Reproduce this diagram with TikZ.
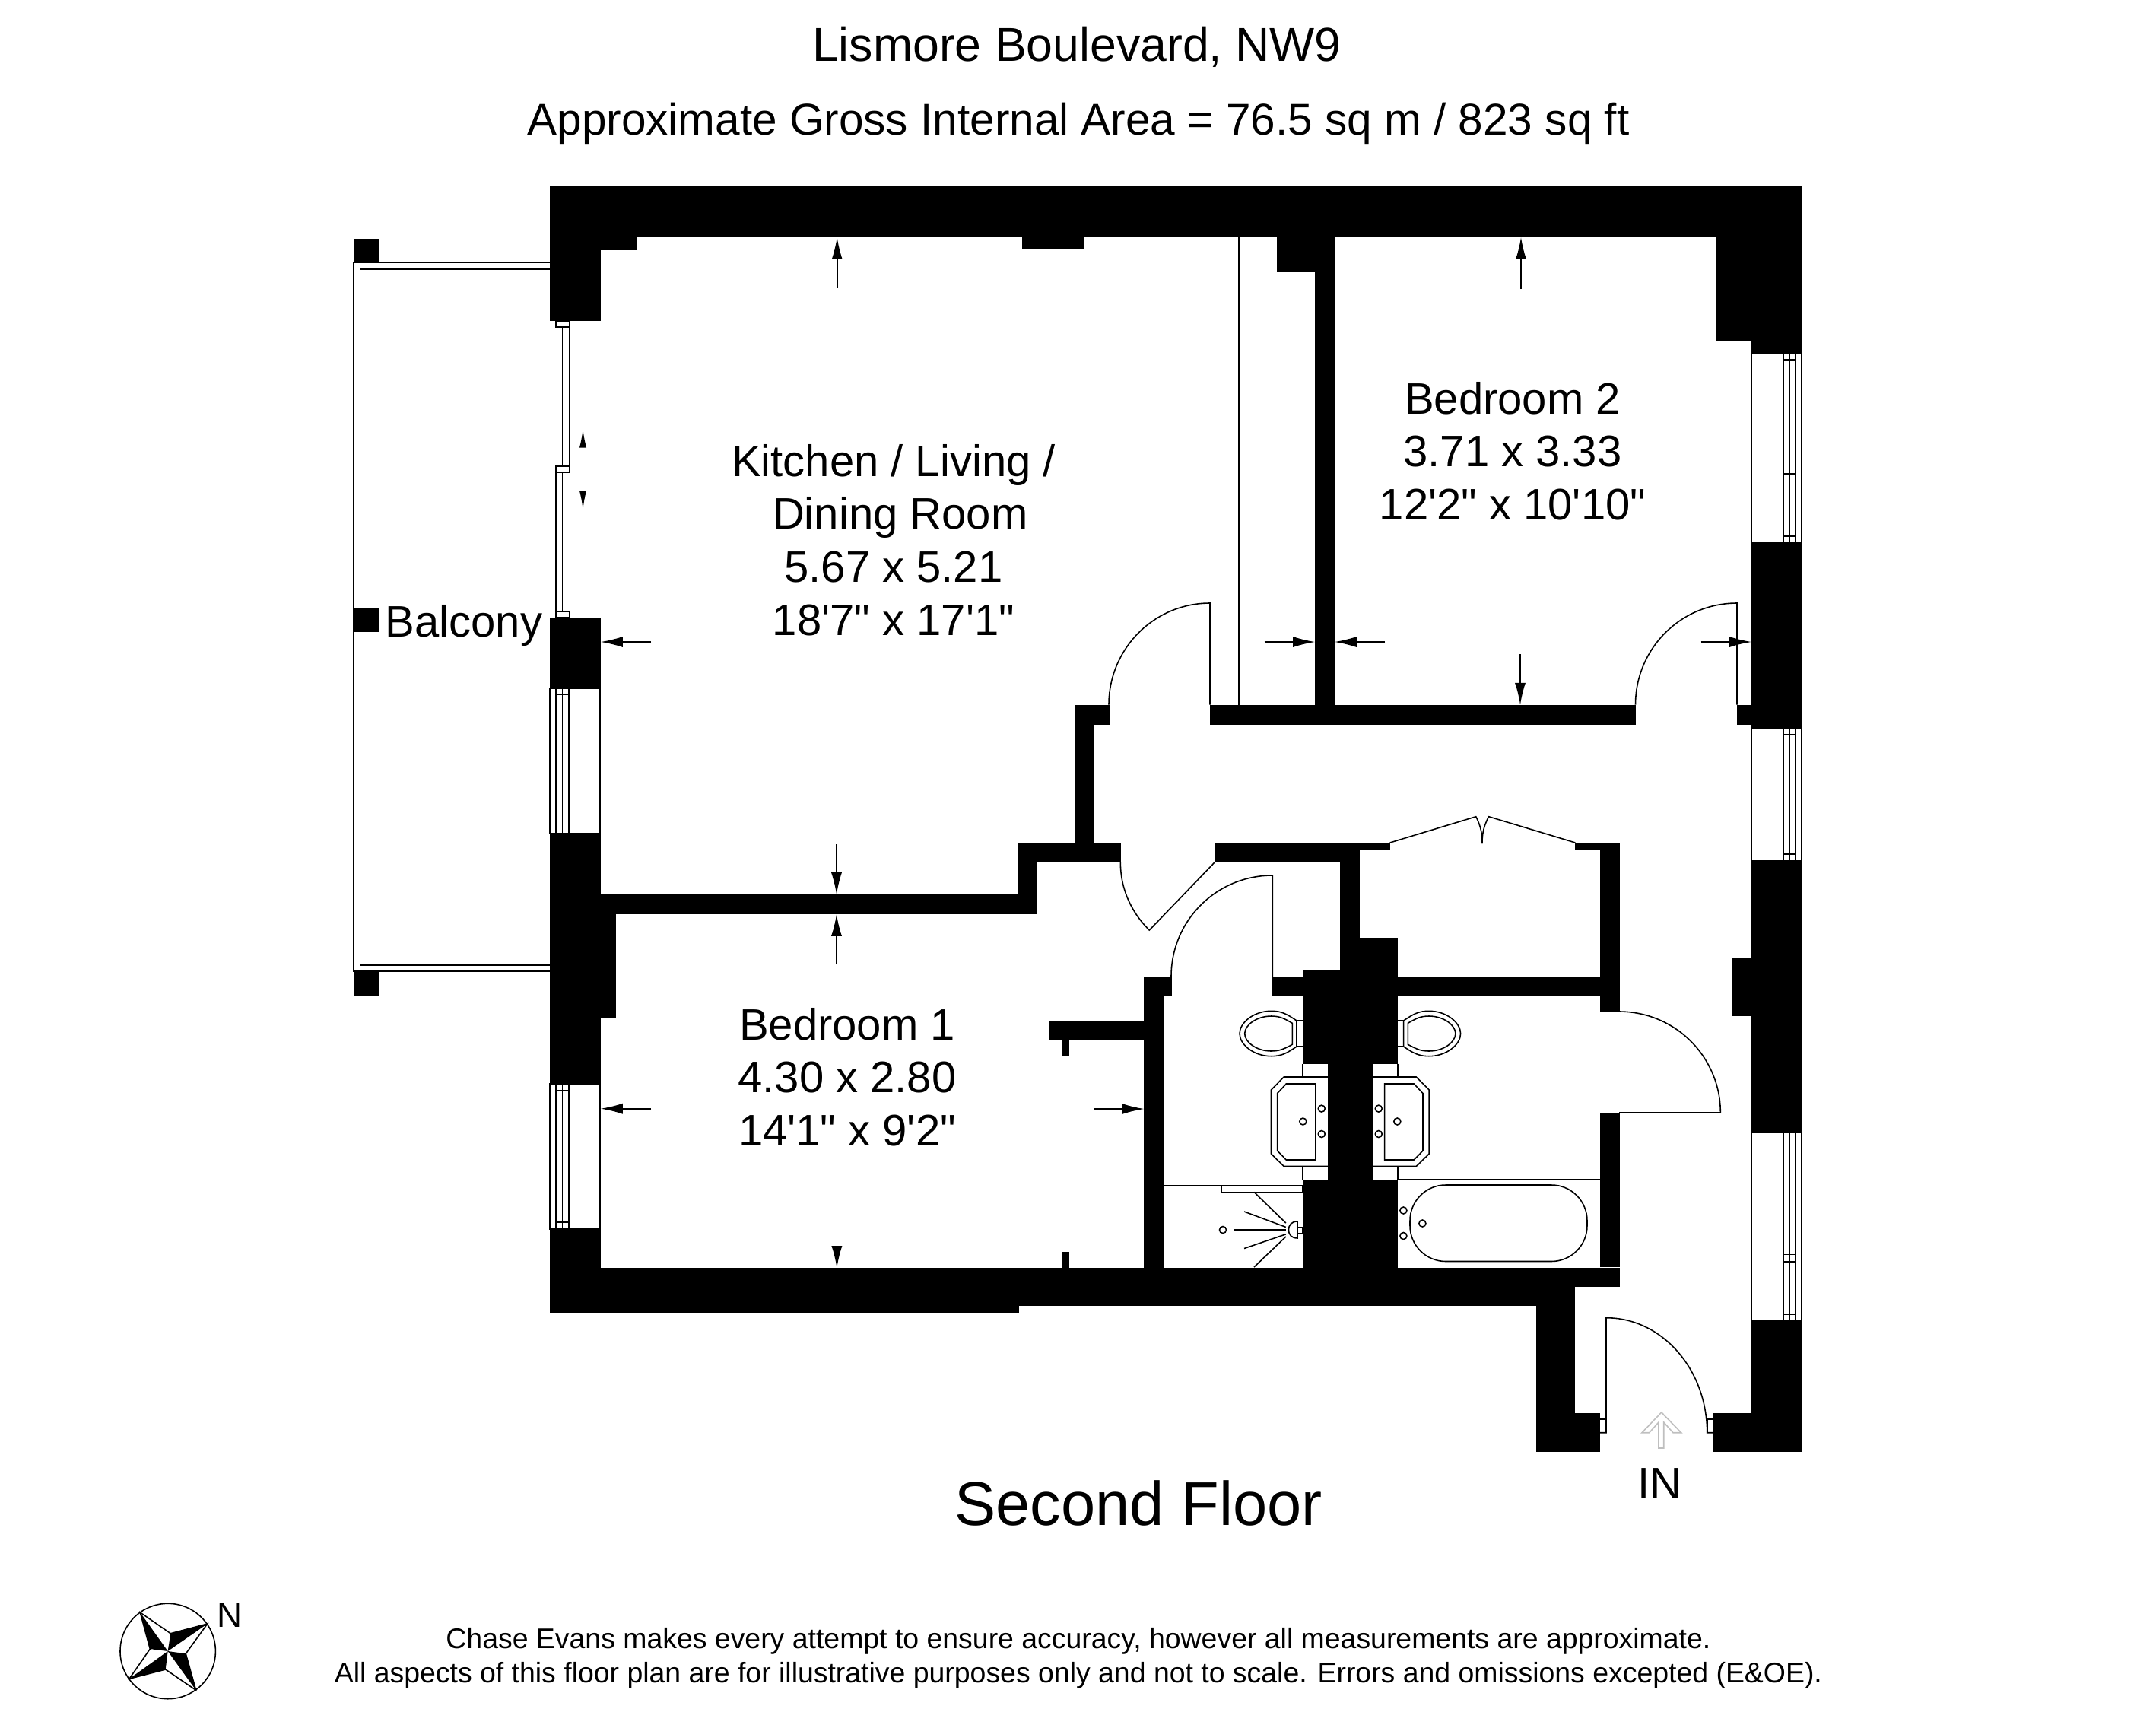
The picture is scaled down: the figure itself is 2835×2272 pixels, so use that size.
\documentclass[tikz,border=0pt]{standalone}
\usepackage{fontspec}
\newfontfamily\plansans{Liberation Sans}
\usetikzlibrary{arrows.meta}

%%% glass strip in an outer wall: outer x, outer x, frame x, frame x, top, bottom
\newcommand{\casement}[6]{
    \draw[thinline] (#1,#5) rectangle (#2,#6);
    \draw[thinline] (#3,#5) rectangle (#4,#6);
    \draw[thinline] ({(#3+#4)/2},#5) -- ({(#3+#4)/2},#6);
    \draw[thinline] (#3,{#5+8.5}) -- (#4,{#5+8.5});
    \draw[thinline] (#3,{#6-8.5}) -- (#4,{#6-8.5});
}

%%% toilet and basin against the service riser
\newcommand{\washset}{
    \draw[thinline] (1705,1342) .. controls (1693,1334) and (1686,1329.3) .. (1671.7,1329.3) .. controls (1648,1329.3) and (1630,1345) .. (1630,1359) .. controls (1630,1373) and (1648,1388.7) .. (1671.7,1388.7) .. controls (1686,1388.7) and (1693,1384) .. (1705,1376) -- cycle;
    \draw[thinline] (1699.3,1345.3) .. controls (1690,1340) and (1684,1336) .. (1671.7,1336) .. controls (1652,1336) and (1636.7,1348) .. (1636.7,1359) .. controls (1636.7,1370) and (1652,1382) .. (1671.7,1382) .. controls (1684,1382) and (1690,1378) .. (1699.3,1373.3) -- cycle;
    \draw[thinline] (1705,1342) -- (1712.8,1342);
    \draw[thinline] (1705,1376) -- (1712.8,1376);
    \draw[thinline] (1712.8,1398.7) -- (1712.8,1416);
    \draw[thinline] (1712.8,1533.5) -- (1712.8,1551);
    \draw[thinline] (1746.4,1416) -- (1688.3,1416) -- (1671.4,1433) -- (1671.4,1517) -- (1688.3,1533.5) -- (1746.4,1533.5);
    \draw[thinline] (1730,1425) -- (1691.3,1425) -- (1679.6,1437.5) -- (1679.6,1513) -- (1691.3,1525) -- (1730,1525) -- cycle;
    \draw[thinline] (1737.8,1457.6) circle [radius=4.5];
    \draw[thinline] (1737.8,1491) circle [radius=4.5];
    \draw[thinline] (1713.3,1474.5) circle [radius=4.5];
}

\begin{document}
\begin{tikzpicture}[
    x=0.01cm, y=-0.01cm,
    >={Latex[length=8.2pt,width=4pt]},
    wall/.style={fill=black},
    thinline/.style={draw=black, line width=0.45pt},
    dimline/.style={thinline, ->},
    slidedim/.style={thinline, <->, >={Latex[length=7pt,width=2.6pt]}},
    inarrow/.style={draw=black!25, line width=0.45pt},
    heading/.style={inner sep=0pt, font=\fontsize{17.8}{21}\plansans},
    subheading/.style={inner sep=0pt, font=\fontsize{16.64}{20}\plansans},
    roomname/.style={inner sep=0pt, align=center, font=\fontsize{16.5}{19.8}\plansans},
    smallprint/.style={inner sep=0pt, font=\fontsize{10.64}{12.6}\plansans}]

    \useasboundingbox (0,0) rectangle (2835,2272);

    %%% Balcony
    \draw[thinline] (723,345.6) -- (465,345.6) -- (465,1277) -- (723,1277);
    \draw[thinline] (723,354) -- (473.5,354) -- (473.5,1269) -- (723,1269);

    %%% Walls
    \foreach \xa/\ya/\xb/\yb in {
        464.5/313.5/498/345.6, 464.5/798.8/498/831, 464.5/1277/498/1309,
        723/244/2370/312, 723/312/837/329, 723/312/790/422, 1344/312/1425/327,
        723/812/790/905, 723/1096/790/1176, 723/1176/1363.7/1202, 723/1202/810/1339,
        723/1339/790/1425, 723/1616/790/1667, 723/1667/1340/1726, 1340/1667/2020/1717,
        1396.3/1646/1405.7/1667, 2020/1667/2129.6/1692, 2020/1692/2071/1858,
        2020/1858/2103.7/1909, 2253/1858/2370/1909, 2303/1737/2370/1858,
        1679.4/312/1755/358.4, 1729/358.4/1755/926.7,
        1413/926.7/1458.6/952.5, 1413/952.5/1439.3/1108.7, 1591/926.7/2151/952.5,
        1338/1108.7/1473.7/1133.7, 1338/1133.7/1363.7/1176,
        2257/312/2370/448, 2303/448/2370/464.4, 2303/713.7/2370/927,
        2284/927/2370/952.5, 2303/952.5/2370/957.4, 2303/1131.5/2370/1260,
        2278/1260/2370/1335.5, 2303/1335.5/2370/1489,
        1597.4/1108/1827.6/1117.4, 1597.4/1117.4/1787.8/1133.5, 1762/1133.5/1788/1232.6,
        1762/1232.6/1837.8/1274.5, 1712.8/1274.5/1837.8/1284, 1673.3/1284/2129.6/1309.4,
        2071.4/1108/2129.6/1117.4, 2103.6/1117.4/2129.6/1284, 2103.6/1309.4/2129.6/1330.8,
        2103.6/1463/2129.6/1666, 1712.8/1309.4/1837.8/1398.7, 1746.4/1398.7/1804.6/1551,
        1712.8/1551/1837.8/1667,
        1504.3/1284/1540.7/1310, 1504.3/1310/1530.7/1667, 1380.3/1342.3/1530.7/1367.7,
        1396.3/1367.7/1405.7/1389.3}
        \fill[wall] (\xa,\ya) rectangle (\xb,\yb);

    %%% Windows and sliding door
    \casement{723}{789}{731}{748}{905}{1096}
    \casement{723}{789}{731}{748}{1425}{1615.7}
    \casement{2303}{2369}{2345}{2361}{464.4}{713.7}
    \casement{2303}{2369}{2345}{2361}{957.4}{1131.5}
    \casement{2303}{2369}{2345}{2361}{1489}{1737}
    \draw[thinline] (2345,623) rectangle (2361,632.4);
    \draw[thinline] (2345,1649.3) rectangle (2361,1658.7);
    \draw[thinline] (731,422) rectangle (748.7,430);
    \draw[thinline] (739.5,430) rectangle (748.7,613);
    \draw[thinline] (731,613) rectangle (748.7,621.5);
    \draw[thinline] (731,621.5) rectangle (739.5,804.5);
    \draw[thinline] (731,804.5) rectangle (748.7,812);

    %%% Doors
    \draw[thinline] (1458,926.7) .. controls (1458,853) and (1517.5,793) .. (1591,793) -- (1591,926.7);
    \draw[thinline] (1629,312) -- (1629,926.7);
    \draw[thinline] (2150.5,926.7) .. controls (2150.5,853) and (2210,793) .. (2284,793) -- (2284,926.7);
    \draw[thinline] (1473.3,1133.7) .. controls (1473.3,1168) and (1487,1199) .. (1511.3,1223) -- (1597.3,1133.7);
    \draw[thinline] (1540,1284) .. controls (1540,1210.5) and (1599.5,1151) .. (1673.3,1151) -- (1673.3,1284);
    \draw[thinline] (2129,1330) .. controls (2202.5,1330) and (2262.3,1389.5) .. (2262.3,1463) -- (2129,1463);
    \draw[thinline] (1827.6,1108) -- (1940.8,1073.7) .. controls (1948,1088) and (1949,1098) .. (1949,1109);
    \draw[thinline] (2071.4,1108) -- (1957.6,1073.7) .. controls (1950,1088) and (1949,1098) .. (1949,1109);
    \draw[thinline] (2103.7,1866) -- (2112,1866);
    \draw[thinline] (2103.7,1883.7) -- (2112,1883.7) -- (2112,1732.7) .. controls (2185,1732.7) and (2244.7,1800) .. (2244.7,1883.7) -- (2253,1883.7);
    \draw[thinline] (2244.7,1883.7) -- (2244.7,1866) -- (2253,1866);
    \draw[inarrow] (2184.7,1857) -- (2210.7,1883.7) -- (2200,1883.7) -- (2187.7,1870) -- (2187.7,1904) -- (2181,1904) -- (2181,1870) -- (2168.7,1883.7) -- (2159,1883.7) -- cycle;

    %%% Wardrobe front of bedroom 1
    \draw[thinline] (1396.3,1389.3) -- (1396.3,1646);

    %%% Bathroom fittings
    \washset
    \begin{scope}[shift={(3550.6,0)}, xscale=-1]
        \washset
    \end{scope}
    \draw[thinline] (1837.8,1550.4) -- (2103.6,1550.4);
    \draw[thinline, rounded corners=47pt*0.2845] (1854,1558) rectangle (2087,1658.5);
    \draw[thinline] (1845.4,1591.5) circle [radius=4.5];
    \draw[thinline] (1845.4,1625) circle [radius=4.5];
    \draw[thinline] (1870.4,1608.5) circle [radius=4.5];

    %%% Shower
    \draw[thinline] (1530.7,1559) -- (1712.8,1559);
    \draw[thinline] (1606.6,1559) rectangle (1712.8,1567.4);
    \draw[thinline] (1706,1606) .. controls (1698,1606) and (1694.4,1611) .. (1694.4,1617) .. controls (1694.4,1623) and (1698,1628) .. (1706,1628) -- cycle;
    \draw[thinline] (1706,1613.4) rectangle (1712.8,1621.4);
    \draw[thinline] (1649,1567.4) -- (1690.8,1608);
    \draw[thinline] (1636,1593) -- (1690.8,1613.4);
    \draw[thinline] (1623,1617) -- (1690.8,1617);
    \draw[thinline] (1636,1641.5) -- (1690.8,1622.8);
    \draw[thinline] (1649,1666) -- (1690.8,1626);
    \draw[thinline] (1608,1617) circle [radius=4.5];

    %%% Measuring arrows
    \draw[dimline] (1100.7,378.7) -- (1100.7,312);
    \draw[dimline] (1100,1110) -- (1100,1176);
    \draw[dimline] (856,844) -- (790,844);
    \draw[slidedim] (766.5,564) -- (766.5,670);
    \draw[dimline] (1662.5,844) -- (1729,844);
    \draw[dimline] (1821,844) -- (1755,844);
    \draw[dimline] (2000,380) -- (2000,312);
    \draw[dimline] (1999,860) -- (1999,926.7);
    \draw[dimline] (2236.5,844) -- (2303,844);
    \draw[dimline] (1100,1268) -- (1100,1202);
    \draw[dimline] (856,1457.7) -- (790,1457.7);
    \draw[dimline] (1100.4,1600) -- (1100.4,1667);
    \draw[dimline] (1438,1458) -- (1504.3,1458);

    %%% Compass
    \draw[thinline] (220.7,2171) circle [radius=62.7];
    \fill (184.3,2120) -- (197.3,2168) -- (220.7,2171) -- cycle;
    \fill (272.7,2135) -- (224.3,2147.7) -- (220.7,2171) -- cycle;
    \fill (257.7,2222.3) -- (244.3,2174.3) -- (220.7,2171) -- cycle;
    \fill (170,2207.3) -- (217.7,2195) -- (220.7,2171) -- cycle;
    \draw[thinline] (184.3,2120) -- (224.3,2147.7) -- (272.7,2135) -- (244.3,2174.3) -- (257.7,2222.3) -- (217.7,2195) -- (170,2207.3) -- (197.3,2168) -- cycle;
    \node[inner sep=0pt, font=\fontsize{13}{15}\plansans] (north) at (302,2124) {N};

    %%% Texts
    \node[heading] (address) at (1416,62) {Lismore Boulevard, NW9};
    \node[subheading] (area) at (1418,162) {Approximate Gross Internal Area = 76.5 sq m / 823 sq ft};
    \node[roomname] (kitchen) at (1175,710) {Kitchen / Living /\\\hspace*{5pt}Dining Room\\5.67 x 5.21\\18'7" x 17'1"};
    \node[roomname] (bedtwo) at (1989,593) {Bedroom 2\\3.71 x 3.33\\12'2" x 10'10"};
    \node[roomname] (bedone) at (1114,1416) {Bedroom 1\\4.30 x 2.80\\14'1" x 9'2"};
    \node[roomname] (balcony) at (610,822) {Balcony};
    \node[roomname] (entry) at (2182,1951) {IN};
    \node[inner sep=0pt, font=\fontsize{23.1}{27}\plansans] (floor) at (1497,1976) {Second Floor};
    \node[smallprint] (noteone) at (1418,2158) {Chase Evans makes every attempt to ensure accuracy, however all measurements are approximate.};
    \node[smallprint] (notetwo) at (1418,2203) {All aspects of this floor plan are for illustrative purposes only and not to scale. Errors and omissions excepted (E\&OE).};

\end{tikzpicture}
\end{document}
